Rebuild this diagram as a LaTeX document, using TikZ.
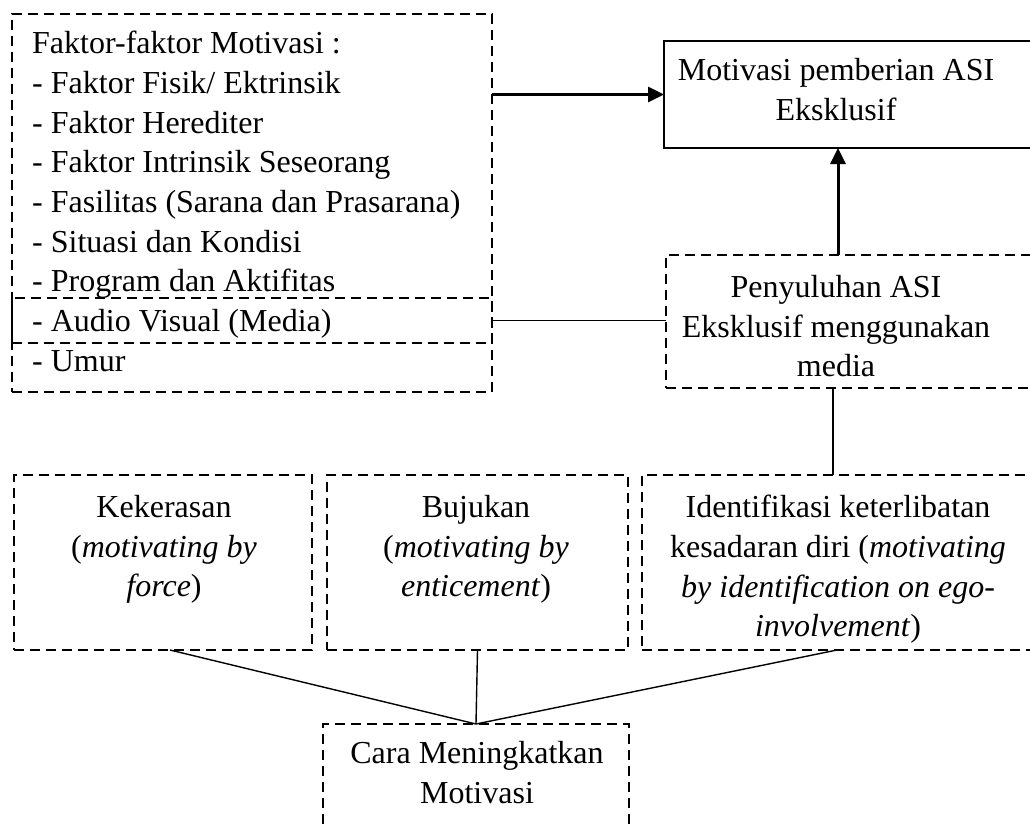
\documentclass[tikz,border=0pt]{standalone}
\usepackage{fontspec}
\setmainfont{Liberation Serif}
\usetikzlibrary{arrows.meta}
\begin{document}
\begin{tikzpicture}[x=1pt,y=-1pt,
  dbox/.style={draw, line width=2.8pt, dash pattern=on 10pt off 6pt, inner sep=0pt, outer sep=0pt, anchor=north west},
  sbox/.style={draw, line width=2.8pt, inner sep=0pt, outer sep=0pt, anchor=north west},
  txt/.style={font=\fontsize{32}{39.7}\selectfont, inner sep=0pt, align=center, anchor=north},
  thinline/.style={line width=1.4pt},
  arr/.style={line width=3pt, -{Triangle[length=16pt,width=15pt]}}]
\useasboundingbox (0,0) rectangle (1030,824);
\clip (0,0) rectangle (1030,824);

% boxes
\node[dbox, minimum width=480pt, minimum height=378pt] (tl) at (12,14) {};
\node[dbox, minimum width=480pt, minimum height=45pt] (av) at (12,298) {};
\node[sbox, minimum width=380pt, minimum height=107pt] (mot) at (664,41) {};
\node[dbox, minimum width=380pt, minimum height=133pt] (pen) at (666,255) {};
\node[dbox, minimum width=298pt, minimum height=175pt] (kek) at (14,475) {};
\node[dbox, minimum width=301pt, minimum height=175pt] (buj) at (327,475) {};
\node[dbox, minimum width=400pt, minimum height=175pt] (ide) at (642,475) {};
\node[dbox, minimum width=306pt, minimum height=130pt] (cara) at (323,724) {};

% texts
\node[txt, align=left, anchor=north west] (tltext) at (32,31)
  {Faktor-faktor Motivasi :\\- Faktor Fisik/ Ektrinsik\\- Faktor Herediter\\- Faktor Intrinsik Seseorang\\- Fasilitas (Sarana dan Prasarana)\\- Situasi dan Kondisi\\- Program dan Aktifitas\\- Audio Visual (Media)\\- Umur};
\node[txt] (mottext) at (836,58) {Motivasi pemberian ASI\\Eksklusif};
\node[txt] (pentext) at (836,275) {Penyuluhan ASI\\Eksklusif menggunakan\\media};
\node[txt] (kektext) at (164,495) {Kekerasan\\(\textit{motivating by}\\\textit{force})};
\node[txt] (bujtext) at (476,495) {Bujukan\\(\textit{motivating by}\\\textit{enticement})};
\node[txt] (idetext) at (838,495) {Identifikasi keterlibatan\\kesadaran diri (\textit{motivating}\\\textit{by identification on ego-}\\\textit{involvement})};
\node[txt] (caratext) at (477,741) {Cara Meningkatkan\\Motivasi};

% connectors
\draw[arr] (tl.north east |- mot.west) -- (mot.west);
\draw[arr] ([xshift=172pt]pen.north west) -- ([xshift=174pt]mot.south west);
\draw[thinline] (av.east) -- (av.east -| pen.west);
\draw[thinline] ([xshift=167pt]pen.south west) -- ([xshift=191pt]ide.north west);
\draw[thinline] ([xshift=156pt]kek.south west) -- (cara.north);
\draw[thinline] (buj.south) -- (cara.north);
\draw[thinline] ([xshift=195pt]ide.south west) -- (cara.north);
\end{tikzpicture}
\end{document}
